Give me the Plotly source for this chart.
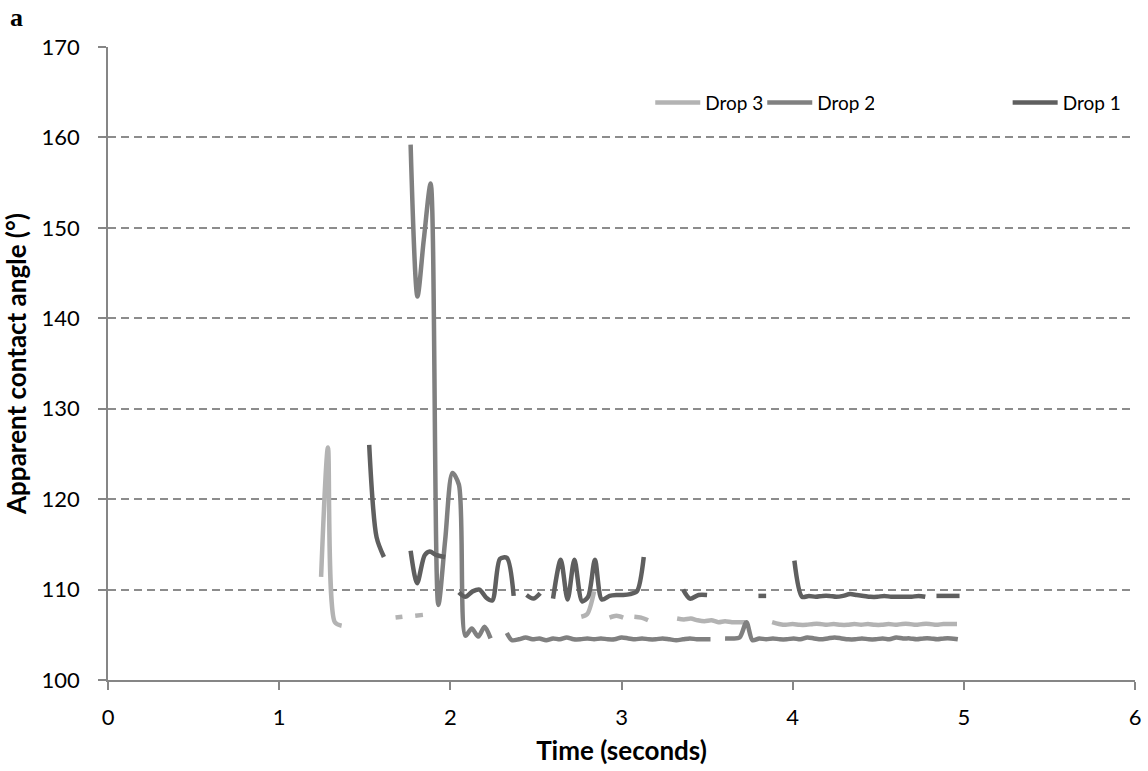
import plotly.graph_objects as go

# ---------------- data ----------------
drop1_time = [1.526, 1.569, 1.612, None,
              1.768, 1.806, 1.850, 1.880, 1.920, 1.970, None,
              2.050, 2.088, 2.130, 2.170, 2.210, 2.245, 2.290, 2.330, 2.370, None,
              2.445, 2.485, 2.525, None,
              2.600, 2.645, 2.685, 2.725, 2.770, 2.805, 2.845, 2.885, 2.930, 2.970,
              3.010, 3.050, 3.090, 3.130, None,
              3.360, 3.400, 3.450, 3.500, None,
              3.800, 3.845, None,
              4.010, 4.055, 4.095, 4.135, 4.175, 4.215, 4.255, 4.295, 4.335, 4.375,
              4.415, 4.455, 4.495, 4.535, 4.575, 4.615, 4.655, 4.695, 4.735, 4.775, None,
              4.840, 4.885, 4.930, 4.975]
drop1_angle = [126.0, 115.8, 113.6, None,
               114.3, 110.7, 113.8, 114.2, 113.8, 113.6, None,
               109.7, 109.2, 109.8, 110.0, 109.1, 108.8, 113.4, 113.5, 109.3, None,
               109.4, 109.0, 109.6, None,
               109.0, 113.3, 108.9, 113.3, 108.7, 109.2, 113.3, 108.9, 109.3, 109.4,
               109.4, 109.5, 109.8, 113.6, None,
               110.0, 109.0, 109.4, 109.4, None,
               109.3, 109.3, None,
               113.2, 109.2, 109.3, 109.2, 109.3, 109.3, 109.2, 109.3, 109.5, 109.4,
               109.3, 109.2, 109.2, 109.3, 109.2, 109.2, 109.2, 109.2, 109.3, 109.2, None,
               109.3, 109.3, 109.3, 109.3]

drop2_time = [1.768, 1.808, 1.845, 1.885, 1.930, 1.970, 2.012, 2.050, 2.088,
              2.125, 2.163, 2.200, 2.235, None,
              2.330, 2.360, 2.400, 2.440, 2.480, 2.520, 2.560, 2.600, 2.640, 2.680,
              2.720, 2.760, 2.800, 2.840, 2.880, 2.920, 2.960, 3.000, 3.040, 3.080,
              3.120, 3.160, 3.200, 3.240, 3.280, 3.320, 3.360, 3.400, 3.440, 3.480,
              3.520, None,
              3.605, 3.645, 3.690, 3.730, 3.765, 3.805, 3.845, 3.885, 3.925, 3.965,
              4.005, 4.045, 4.085, 4.125, 4.165, 4.205, 4.245, 4.285, 4.325, 4.365,
              4.405, 4.445, 4.485, 4.525, 4.565, 4.605, 4.645, 4.685, 4.725, 4.765,
              4.805, 4.845, 4.885, 4.925, 4.965]
drop2_angle = [159.2, 142.4, 148.7, 154.9, 108.3, 115.5, 122.9, 121.6, 104.9,
               105.7, 104.8, 105.9, 104.6, None,
               105.2, 104.4, 104.5, 104.7, 104.5, 104.6, 104.4, 104.6, 104.5, 104.7,
               104.5, 104.5, 104.6, 104.5, 104.6, 104.5, 104.5, 104.7, 104.6, 104.5,
               104.6, 104.5, 104.5, 104.6, 104.5, 104.4, 104.5, 104.6, 104.5, 104.5,
               104.5, None,
               104.6, 104.6, 104.7, 106.4, 104.4, 104.6, 104.5, 104.6, 104.5, 104.5,
               104.6, 104.5, 104.7, 104.6, 104.5, 104.6, 104.7, 104.6, 104.5, 104.5,
               104.6, 104.5, 104.5, 104.6, 104.5, 104.7, 104.6, 104.6, 104.5, 104.6,
               104.6, 104.5, 104.6, 104.6, 104.5]

drop3_time = [1.245, 1.285, 1.325, 1.365, None,
              1.680, 1.720, None,
              1.795, 1.840, None,
              2.765, 2.800, 2.840, None,
              2.930, 2.970, 3.010, None,
              3.075, 3.115, 3.155, None,
              3.325, 3.365, 3.405, 3.445, 3.485, 3.525, 3.565, 3.605, 3.645, 3.685,
              3.725, None,
              3.880, 3.920, 3.960, 4.000, 4.040, 4.080, 4.120, 4.160, 4.200, 4.240,
              4.280, 4.320, 4.360, 4.400, 4.440, 4.480, 4.520, 4.560, 4.600, 4.640,
              4.680, 4.720, 4.760, 4.800, 4.840, 4.880, 4.920, 4.960]
drop3_angle = [111.4, 125.7, 106.4, 106.0, None,
               106.9, 107.0, None,
               107.1, 107.2, None,
               107.0, 107.3, 109.8, None,
               106.9, 107.1, 106.9, None,
               107.0, 106.9, 106.6, None,
               106.8, 106.7, 106.8, 106.6, 106.5, 106.6, 106.4, 106.5, 106.4, 106.4,
               106.4, None,
               106.4, 106.2, 106.1, 106.2, 106.1, 106.1, 106.2, 106.2, 106.1, 106.2,
               106.1, 106.1, 106.2, 106.1, 106.2, 106.1, 106.1, 106.2, 106.1, 106.2,
               106.2, 106.1, 106.2, 106.2, 106.1, 106.2, 106.2, 106.2]

series_names = ["Drop 3", "Drop 2", "Drop 1"]
series_colors = ["#B3B3B3", "#808080", "#5F5F5F"]
series_legends = ["legend", "legend", "legend2"]

x_ticks = [0, 1, 2, 3, 4, 5, 6]
y_ticks = [100, 110, 120, 130, 140, 150, 160, 170]

# ---------------- figure ----------------
fig = go.Figure()
for name, t, a, c, lg in zip(series_names,
                             [drop3_time, drop2_time, drop1_time],
                             [drop3_angle, drop2_angle, drop1_angle],
                             series_colors, series_legends):
    fig.add_trace(go.Scatter(x=t, y=a, name=name, mode="lines", legend=lg,
                             line=dict(color=c, width=4.5, shape="spline", smoothing=0.8),
                             connectgaps=False))

FONT = "Lato, Open Sans, sans-serif"
tick_font = dict(family=FONT, size=22, color="#000000")
title_font = dict(family=FONT, size=26, color="#000000")
legend_font = dict(family=FONT, size=19, color="#000000")

W, H = 1148, 771
ML, MR, MT, MB = 108, 13, 47, 91
PW = W - ML - MR
PH = H - MT - MB

fig.update_layout(
    width=W, height=H,
    margin=dict(l=ML, r=MR, t=MT, b=MB, autoexpand=False),
    paper_bgcolor="white", plot_bgcolor="white",
    showlegend=True,
    legend=dict(orientation="h", x=0.528, y=0.912, xanchor="left", yanchor="middle",
                font=legend_font, bgcolor="rgba(0,0,0,0)", traceorder="normal",
                itemwidth=45, entrywidth=52, entrywidthmode="pixels"),
    legend2=dict(orientation="h", x=0.876, y=0.912, xanchor="left", yanchor="middle",
                 font=legend_font, bgcolor="rgba(0,0,0,0)", itemwidth=45),
    xaxis=dict(range=[0, 6], tickvals=x_ticks, ticks="outside", ticklen=8,
               tickcolor="#868686", tickwidth=1.5, showline=True, linecolor="#868686",
               linewidth=1.5, showgrid=False, zeroline=False, tickfont=tick_font,
               ticklabelstandoff=9, automargin=False,
               title=dict(text="<b>Time (seconds)</b>", standoff=13, font=title_font)),
    yaxis=dict(range=[100, 170], tickvals=y_ticks, ticks="outside", ticklen=8,
               tickcolor="#868686", tickwidth=1.5, showline=True, linecolor="#868686",
               linewidth=1.5, showgrid=True, gridcolor="#8C8C8C", gridwidth=1.5,
               griddash="8px,5px", zeroline=False, tickfont=tick_font,
               ticklabelstandoff=14, automargin=False,
               title=dict(text="<b>Apparent contact angle (°)</b>", standoff=8, font=title_font)),
)

fig.add_annotation(text="<b>a</b>", xref="paper", yref="paper", x=-(ML - 8) / PW, y=1 + (MT - 1) / PH,
                   xanchor="left", yanchor="top", showarrow=False,
                   font=dict(family="Liberation Serif, Times New Roman, serif", size=26, color="#000000"))

fig.write_html("out.html", config={"displayModeBar": False},
               post_script="document.body.style.margin='0px';")
